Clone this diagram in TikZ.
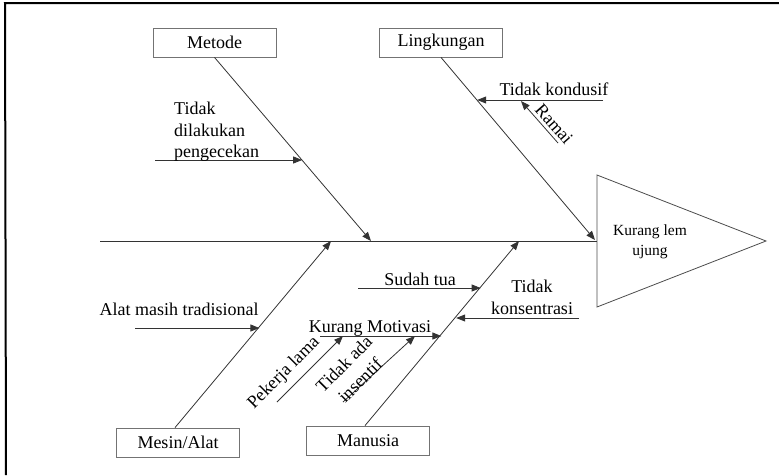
\documentclass[tikz,border=0pt]{standalone}
\usepackage{fontspec}
\setmainfont{Liberation Serif}
\usetikzlibrary{arrows.meta,calc}
\begin{document}
\begin{tikzpicture}[x=1pt,y=1pt,
  every node/.style={font=\fontsize{18}{21.6}\selectfont, inner sep=0pt},
  catbox/.style={draw=black!55, line width=0.8pt, minimum width=123pt, minimum height=29pt},
  bone/.style={draw=black!80, line width=0.8pt, -{Triangle[length=9pt,width=7pt]}},
  plain/.style={draw=black!75, line width=0.8pt},
  frameline/.style={draw=black, line width=2pt}
]
\useasboundingbox (0,0) rectangle (779,-475);
% frame
\coordinate (fa) at (5,-3);
\coordinate (fb) at (779,-3);
\coordinate (fc) at (6,-475);
\draw[frameline] (fb) -- (fa) -- (fc);

% head
\coordinate (sp0) at (100,-241);
\coordinate (sp1) at (597,-241);
\coordinate (hT) at (597,-175);
\coordinate (hA) at (766,-241);
\coordinate (hB) at (597,-307);
\draw[draw=black!70, line width=0.8pt] (hT) -- (hA) -- (hB) -- cycle;
\node[align=center, font=\fontsize{15.5}{20}\selectfont] (head) at (650,-242) {Kurang lem\\ujung};

% spine
\draw[plain, draw=black!80] (sp0) -- (sp1);

% category boxes
\node[catbox] (metode) at (214.5,-42.5) {Metode};
\node[catbox] (lingkungan) at (441,-42.5) {Lingkungan};
\node[catbox] (mesin) at (178,-442.5) {Mesin/Alat};
\node[catbox] (manusia) at (368,-440.5) {Manusia};

% bone ends
\coordinate (mE) at (371,-241);
\coordinate (lE) at (595,-240);
\coordinate (sE) at (331,-241);
\coordinate (uE) at (519,-241);
\draw[bone] (metode.south) -- (mE);
\draw[bone] (lingkungan.south) -- (lE);
\draw[bone] ([xshift=-3pt]mesin.north) -- (sE);
\draw[bone] ([xshift=-3pt]manusia.north) -- (uE);

% Metode cause
\coordinate (m1s) at (155,-160);
\coordinate (m1t) at ($(metode.south)!0.56!(mE)$);
\draw[bone] (m1s) -- (m1t |- m1s);
\node[align=left, anchor=north west] (tdp) at (174,-102) {Tidak\\dilakukan\\pengecekan};

% Lingkungan causes
\coordinate (l1s) at (603,-100);
\coordinate (l1t) at ($(lingkungan.south)!0.235!(lE)$);
\draw[bone] (l1s) -- (l1t |- l1s);
\node[anchor=base] (tk) at (554,-95) {Tidak kondusif};
\coordinate (r1s) at (558,-143);
\coordinate (r1t) at (521,-101);
\draw[bone] (r1s) -- (r1t);
\node[rotate=-48.6] (ramai) at (554,-124) {Ramai};

% Mesin cause
\coordinate (a1s) at (135,-328);
\coordinate (a1t) at ($(mesin.north)!0.532!(sE)$);
\draw[bone] (a1s) -- (a1t |- a1s);
\node[anchor=base] (amt) at (179,-315) {Alat masih tradisional};

% Manusia causes
\coordinate (u1s) at (358,-288);
\coordinate (u1t) at ($(manusia.north)!0.746!(uE)$);
\draw[bone] (u1s) -- (u1t |- u1s);
\node[anchor=base] (st) at (420,-285) {Sudah tua};

\coordinate (u2s) at (579,-318);
\coordinate (u2t) at ($(manusia.north)!0.584!(uE)$);
\draw[bone] (u2s) -- (u2t |- u2s);
\node[align=center, anchor=north] (tko) at (532,-280) {Tidak\\konsentrasi};

\coordinate (u3s) at (320,-336);
\coordinate (u3t) at ($(manusia.north)!0.486!(uE)$);
\draw[bone] (u3s) -- (u3t |- u3s);
\node[anchor=base] (km) at (370,-332) {Kurang Motivasi};

\coordinate (p1s) at (277,-402);
\coordinate (p1t) at (343,-336);
\draw[bone] (p1s) -- (p1t);
\node[rotate=45] (pl) at (284,-373) {Pekerja lama};

\coordinate (i1s) at (343,-402);
\coordinate (i1t) at (415,-336);
\draw[bone] (i1s) -- (i1t);
\node[rotate=45, align=center, font=\fontsize{18}{23}\selectfont] (tai) at (352,-372) {Tidak ada\\insentif};
\end{tikzpicture}
\end{document}
